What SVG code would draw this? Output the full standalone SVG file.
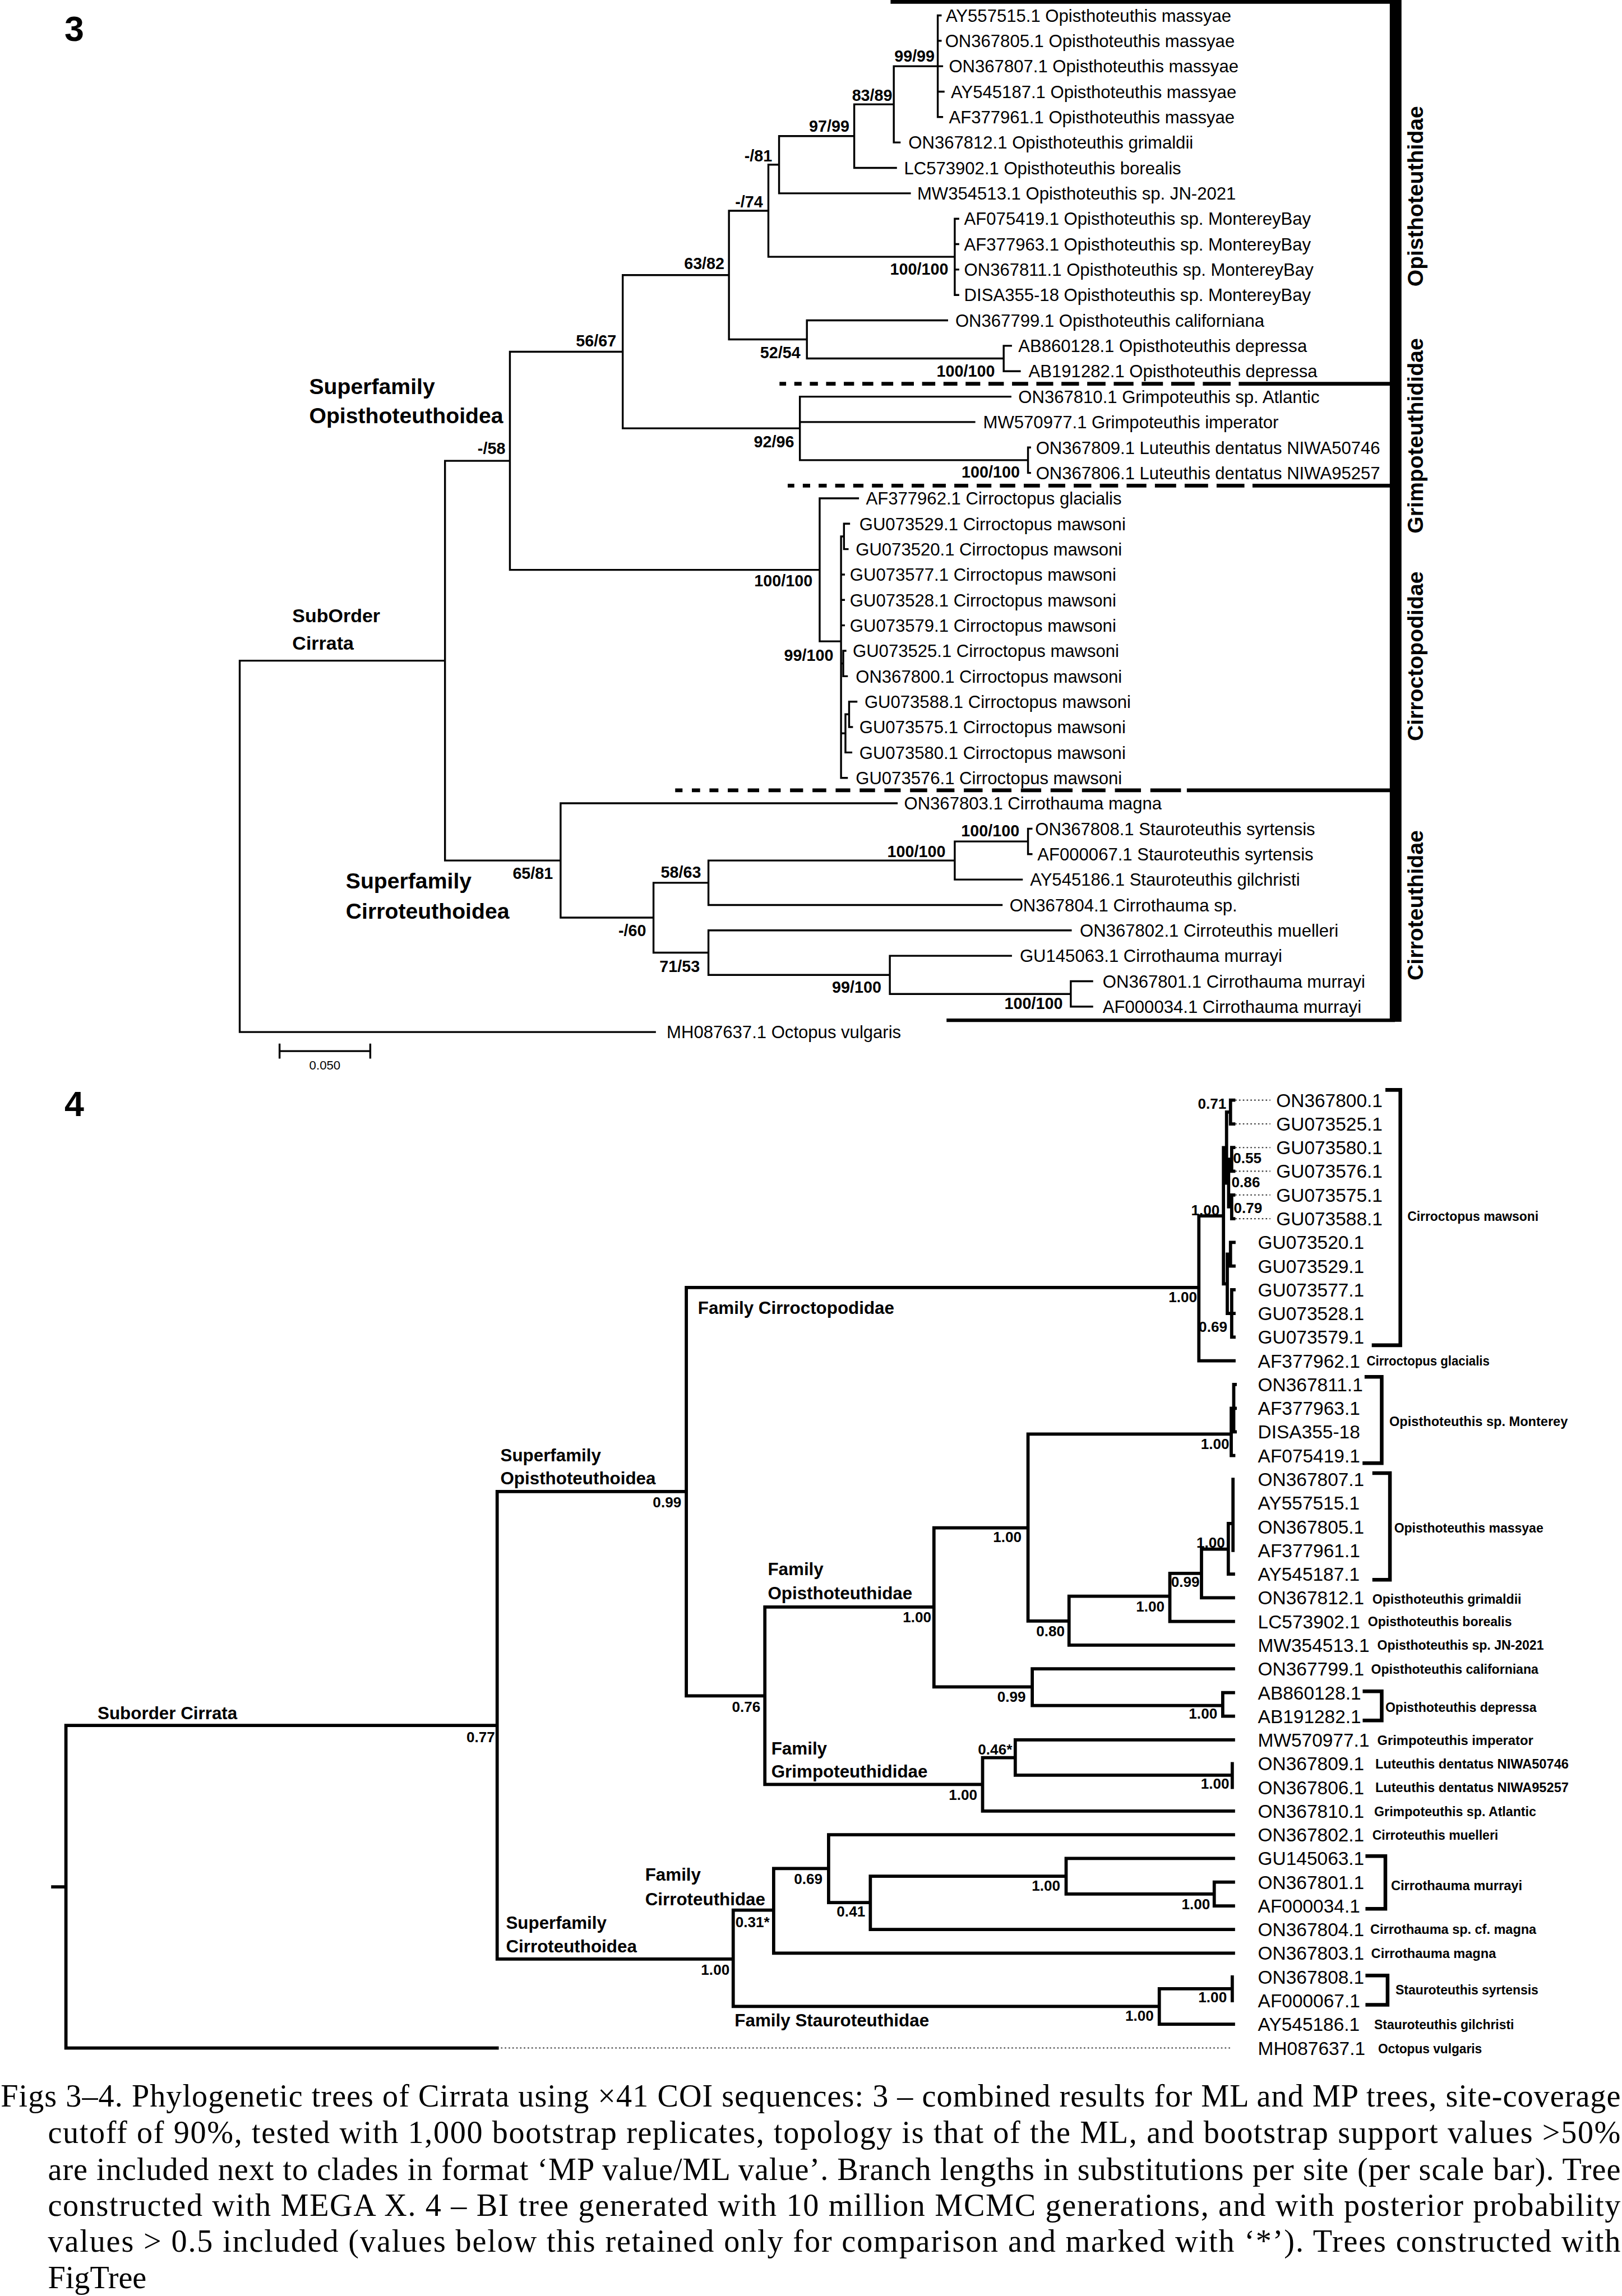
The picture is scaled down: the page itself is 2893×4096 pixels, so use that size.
<svg xmlns="http://www.w3.org/2000/svg" width="2893" height="4096" viewBox="0 0 2893 4096">
<style>
.l3{fill:none;stroke:#000;stroke-width:1.3;stroke-linecap:square}
.l4{fill:none;stroke:#000;stroke-width:2.2;stroke-linecap:square}
.dot{fill:none;stroke:#333;stroke-width:0.8;stroke-dasharray:1 1.6}
.sep{fill:none;stroke:#000;stroke-width:2.6}
.brk{fill:none;stroke:#000;stroke-width:2.5}
text{fill:#000}
.t3{font-family:"Liberation Sans",Arial,sans-serif;font-size:11.9px}
.b3{font-family:"Liberation Sans",Arial,sans-serif;font-size:11px;font-weight:bold;text-anchor:end}
.sf3{font-family:"Liberation Sans",Arial,sans-serif;font-size:15px;font-weight:bold}
.so3{font-family:"Liberation Sans",Arial,sans-serif;font-size:13px;font-weight:bold}
.fam3{font-family:"Liberation Sans",Arial,sans-serif;font-size:15px;font-weight:bold;text-anchor:middle}
.num{font-family:"Liberation Sans",Arial,sans-serif;font-size:24px;font-weight:bold}
.sc{font-family:"Liberation Sans",Arial,sans-serif;font-size:8.5px;text-anchor:middle}
.t4{font-family:"Liberation Sans",Arial,sans-serif;font-size:12.8px}
.sp4{font-family:"Liberation Sans",Arial,sans-serif;font-size:9px;font-weight:bold}
.fl4{font-family:"Liberation Sans",Arial,sans-serif;font-size:12px;font-weight:bold}
.p4{font-family:"Liberation Sans",Arial,sans-serif;font-size:10px;font-weight:bold;text-anchor:end}
.p4s{font-family:"Liberation Sans",Arial,sans-serif;font-size:10px;font-weight:bold}
.cap{font-family:"Liberation Serif","Times New Roman",serif;font-size:21.5px}
</style>
<rect width="2893" height="4096" fill="#fff"/>
<g transform="scale(2.6134)">

<!-- ================= FIGURE 3 ================= -->
<g id="fig3-number"><text class="num" x="44" y="28">3</text></g>

<g id="fig3-connectors">
<path class="l3" d="M163.6 451V704.5M163.6 451H303.7M163.6 704.5H447
M303.7 314.6V587.4M303.7 314.6H348M303.7 587.4H382.6
M348 240.1V389M348 240.1H425M348 389H559.4
M425 187.8V292.4M425 187.8H497.5M425 292.4H545.9
M497.5 143.9V231.7M497.5 143.9H524.4M497.5 231.7H550.7
M524.4 112.4V175.3M524.4 112.4H531.7M524.4 175.3H651.6
M531.7 92.9V131.95M531.7 92.9H583M531.7 131.95H621
M583 71.2V114.6M583 71.2H610M583 114.6H611.5
M610 45.2V97.25M610 45.2H640M610 97.25H614
M640 10.5V79.9M640 10.5H642M640 27.85H642M640 45.2H643M640 62.55H644M640 79.9H643
M651.6 149.3V201.35M651.6 149.3H654M651.6 166.65H654M651.6 184H654M651.6 201.35H654
M550.7 218.7V244.7M550.7 218.7H646.4M550.7 244.7H685
M685 236.05V253.4M685 236.05H690M685 253.4H696
M545.9 270.75V314.1M545.9 270.75H689.6M545.9 288.1H665M545.9 314.1H701.6
M701.6 305.45V322.8M701.6 305.45H703M701.6 322.8H703
M559.4 340.15V437.8M559.4 340.15H585.6M559.4 437.8H574
M574 366.2V531M574 366.2H576M576 357.5V374.85M576 357.5H579.5M576 374.85H578.5
M574 392.2H576M574 409.55H576M574 426.9H576
M574 452.9H575.5M575.5 444.25V461.6M575.5 444.25H577M575.5 461.6H578
M574 500.6H577M577 487.6V513.65M577 487.6H579.5M579.5 478.95V496.3M579.5 478.95H584.5M579.5 496.3H581.5M577 513.65H581
M574 531H578
M382.6 548.35V626.4M382.6 548.35H612M382.6 626.4H446
M446 602.6V650.3M446 602.6H483.5M446 650.3H483.5
M483.5 587.4V617.75M483.5 587.4H651.6M483.5 617.75H683.6
M651.6 574.4V600.4M651.6 574.4H701.6M651.6 600.4H697.4
M701.6 565.7V583.05M701.6 565.7H704M701.6 583.05H704
M483.5 635.1V665.5M483.5 635.1H730.8M483.5 665.5H607.3
M607.3 652.45V678.5M607.3 652.45H690M607.3 678.5H730.8
M730.8 669.8V687.15M730.8 669.8H745.4M730.8 687.15H745.4"/>
<!-- scale bar -->
<path class="l3" d="M190.8 717.5H252.7M190.8 713V722M252.7 713V722"/>
</g>
<g id="fig3-scale-label"><text class="sc" x="221.7" y="730">0.050</text></g>

<g id="fig3-support">
<text class="b3" x="637.9" y="41.9">99/99</text>
<text class="b3" x="609" y="68.8">83/89</text>
<text class="b3" x="579.7" y="89.8">97/99</text>
<text class="b3" x="527" y="110.2">-/81</text>
<text class="b3" x="520.7" y="141.7">-/74</text>
<text class="b3" x="494.4" y="183.7">63/82</text>
<text class="b3" x="647.2" y="187.6">100/100</text>
<text class="b3" x="546.3" y="244.5">52/54</text>
<text class="b3" x="679" y="257">100/100</text>
<text class="b3" x="542" y="305.2">92/96</text>
<text class="b3" x="696" y="325.9">100/100</text>
<text class="b3" x="420.6" y="236.4">56/67</text>
<text class="b3" x="344.9" y="310">-/58</text>
<text class="b3" x="554.5" y="400.3">100/100</text>
<text class="b3" x="568.8" y="451">99/100</text>
<text class="b3" x="377.4" y="600">65/81</text>
<text class="b3" x="695.7" y="571">100/100</text>
<text class="b3" x="645.3" y="585">100/100</text>
<text class="b3" x="478.5" y="599.4">58/63</text>
<text class="b3" x="441" y="638.9">-/60</text>
<text class="b3" x="477.6" y="663.4">71/53</text>
<text class="b3" x="601.5" y="677.7">99/100</text>
<text class="b3" x="725.3" y="688.6">100/100</text>
</g>

<g id="fig3-groups">
<g id="f3-superfamily-opisthoteuthoidea"><text class="sf3" x="211" y="269">Superfamily</text><text class="sf3" x="211" y="289">Opisthoteuthoidea</text></g>
<g id="f3-suborder-cirrata"><text class="so3" x="199.5" y="424.7">SubOrder</text><text class="so3" x="199.5" y="443.4">Cirrata</text></g>
<g id="f3-superfamily-cirroteuthoidea"><text class="sf3" x="236" y="606.5">Superfamily</text><text class="sf3" x="236" y="627">Cirroteuthoidea</text></g>
</g>

<g id="fig3-clade-bars">
<path class="sep" d="M607.8 1.3H952.5"/>
<rect x="948.5" y="0" width="8" height="697.5" fill="#000"/>
<path class="sep" d="M646 696.5H952" style="stroke-width:2.4"/>
<line class="sep" x1="532" y1="262" x2="840" y2="262" stroke-dasharray="4.5 5.6 5 5.6 5.5 5.6 6.5 5.6 7 5.6 7.5 5.6 8 5.6 8.5 5.6 9 5.6 9.5 5.6 10 5.6 10.5 5.6 11 5.6 11.5 5.6 12 5.6 12.5 5.6 13.5 5.6 14.5 5.6 16 5.6 19 40"/>
<path class="sep" d="M845.4 262H949"/>
<line class="sep" x1="537.6" y1="331.5" x2="850" y2="331.5" stroke-dasharray="4.5 5.8 5 5.8 5.5 5.8 6.5 5.8 7 5.8 7.5 5.8 8 5.8 8.5 5.8 9 5.8 9.5 5.8 10 5.8 10.5 5.8 11 5.8 11.5 5.8 12 5.8 12.5 5.8 13.5 5.8 14.5 5.8 16 5.8 19 40"/>
<path class="sep" d="M854.8 331.5H949"/>
<line class="sep" x1="460.8" y1="539.5" x2="806" y2="539.5" stroke-dasharray="5 6.4 5.6 6.4 6.1 6.4 7.2 6.4 7.8 6.4 8.3 6.4 8.9 6.4 9.4 6.4 10 6.4 10.5 6.4 11.1 6.4 11.7 6.4 12.2 6.4 12.8 6.4 13.3 6.4 13.9 6.4 15 6.4 16.1 6.4 17.8 6.4 21.1 40"/>
<path class="sep" d="M810 539.5H949"/>
</g>

<g id="fig3-families">
<g id="f3-fam-opisthoteuthidae"><text class="fam3" transform="translate(971 134) rotate(-90)">Opisthoteuthidae</text></g>
<g id="f3-fam-grimpoteuthididae"><text class="fam3" transform="translate(971 297.5) rotate(-90)">Grimpoteuthididae</text></g>
<g id="f3-fam-cirroctopodidae"><text class="fam3" transform="translate(971 448) rotate(-90)">Cirroctopodidae</text></g>
<g id="f3-fam-cirroteuthidae"><text class="fam3" transform="translate(971 618) rotate(-90)">Cirroteuthidae</text></g>
</g>

<g id="fig3-tips">
<g id="f3-t01"><text class="t3" x="645.5" y="14.8">AY557515.1 Opisthoteuthis massyae</text></g>
<g id="f3-t02"><text class="t3" x="645" y="32.15">ON367805.1 Opisthoteuthis massyae</text></g>
<g id="f3-t03"><text class="t3" x="647.6" y="49.5">ON367807.1 Opisthoteuthis massyae</text></g>
<g id="f3-t04"><text class="t3" x="649" y="66.85">AY545187.1 Opisthoteuthis massyae</text></g>
<g id="f3-t05"><text class="t3" x="647.6" y="84.2">AF377961.1 Opisthoteuthis massyae</text></g>
<g id="f3-t06"><text class="t3" x="620" y="101.55">ON367812.1 Opisthoteuthis grimaldii</text></g>
<g id="f3-t07"><text class="t3" x="617" y="118.9">LC573902.1 Opisthoteuthis borealis</text></g>
<g id="f3-t08"><text class="t3" x="626" y="136.25">MW354513.1 Opisthoteuthis sp. JN-2021</text></g>
<g id="f3-t09"><text class="t3" x="658" y="153.6">AF075419.1 Opisthoteuthis sp. MontereyBay</text></g>
<g id="f3-t10"><text class="t3" x="658" y="170.95">AF377963.1 Opisthoteuthis sp. MontereyBay</text></g>
<g id="f3-t11"><text class="t3" x="658" y="188.3">ON367811.1 Opisthoteuthis sp. MontereyBay</text></g>
<g id="f3-t12"><text class="t3" x="658" y="205.65">DISA355-18 Opisthoteuthis sp. MontereyBay</text></g>
<g id="f3-t13"><text class="t3" x="652" y="223">ON367799.1 Opisthoteuthis californiana</text></g>
<g id="f3-t14"><text class="t3" x="695" y="240.35">AB860128.1 Opisthoteuthis depressa</text></g>
<g id="f3-t15"><text class="t3" x="702" y="257.7">AB191282.1 Opisthoteuthis depressa</text></g>
<g id="f3-t16"><text class="t3" x="695" y="275.05">ON367810.1 Grimpoteuthis sp. Atlantic</text></g>
<g id="f3-t17"><text class="t3" x="671" y="292.4">MW570977.1 Grimpoteuthis imperator</text></g>
<g id="f3-t18"><text class="t3" x="707" y="309.75">ON367809.1 Luteuthis dentatus NIWA50746</text></g>
<g id="f3-t19"><text class="t3" x="707" y="327.1">ON367806.1 Luteuthis dentatus NIWA95257</text></g>
<g id="f3-t20"><text class="t3" x="591" y="344.45">AF377962.1 Cirroctopus glacialis</text></g>
<g id="f3-t21"><text class="t3" x="586.5" y="361.8">GU073529.1 Cirroctopus mawsoni</text></g>
<g id="f3-t22"><text class="t3" x="584" y="379.15">GU073520.1 Cirroctopus mawsoni</text></g>
<g id="f3-t23"><text class="t3" x="580" y="396.5">GU073577.1 Cirroctopus mawsoni</text></g>
<g id="f3-t24"><text class="t3" x="580" y="413.85">GU073528.1 Cirroctopus mawsoni</text></g>
<g id="f3-t25"><text class="t3" x="580" y="431.2">GU073579.1 Cirroctopus mawsoni</text></g>
<g id="f3-t26"><text class="t3" x="582" y="448.55">GU073525.1 Cirroctopus mawsoni</text></g>
<g id="f3-t27"><text class="t3" x="584" y="465.9">ON367800.1 Cirroctopus mawsoni</text></g>
<g id="f3-t28"><text class="t3" x="590" y="483.25">GU073588.1 Cirroctopus mawsoni</text></g>
<g id="f3-t29"><text class="t3" x="586.5" y="500.6">GU073575.1 Cirroctopus mawsoni</text></g>
<g id="f3-t30"><text class="t3" x="586.5" y="517.95">GU073580.1 Cirroctopus mawsoni</text></g>
<g id="f3-t31"><text class="t3" x="584" y="535.3">GU073576.1 Cirroctopus mawsoni</text></g>
<g id="f3-t32"><text class="t3" x="617" y="552.65">ON367803.1 Cirrothauma magna</text></g>
<g id="f3-t33"><text class="t3" x="706.5" y="570">ON367808.1 Stauroteuthis syrtensis</text></g>
<g id="f3-t34"><text class="t3" x="708" y="587.35">AF000067.1 Stauroteuthis syrtensis</text></g>
<g id="f3-t35"><text class="t3" x="703" y="604.7">AY545186.1 Stauroteuthis gilchristi</text></g>
<g id="f3-t36"><text class="t3" x="689" y="622.05">ON367804.1 Cirrothauma sp.</text></g>
<g id="f3-t37"><text class="t3" x="737" y="639.4">ON367802.1 Cirroteuthis muelleri</text></g>
<g id="f3-t38"><text class="t3" x="696" y="656.75">GU145063.1 Cirrothauma murrayi</text></g>
<g id="f3-t39"><text class="t3" x="752.6" y="674.1">ON367801.1 Cirrothauma murrayi</text></g>
<g id="f3-t40"><text class="t3" x="752.6" y="691.45">AF000034.1 Cirrothauma murrayi</text></g>
<g id="f3-t41"><text class="t3" x="455" y="708.8">MH087637.1 Octopus vulgaris</text></g>
</g>

<!-- ================= FIGURE 4 ================= -->
<g id="fig4-number"><text class="num" x="44" y="762">4</text></g>

<g id="fig4-connectors">
<path class="l4" d="M36 1288H45M45 1177.8V1398M45 1177.8H339.3M45 1398H339.3
M339.3 1018.2V1337.3M339.3 1018.2H468.4M339.3 1337.3H500.4
M468.4 878.9V1157.6M468.4 878.9H818.2M468.4 1157.6H522
M818.2 830V928.9M818.2 830H835M818.2 928.9H842.2
M835 783.4V876.4M835 783.4H837.1M835 876.4H837.6
M837.1 759.1V807.6M837.1 759.1H839.8M837.1 807.6H838.5
M839.8 751V767.2M839.8 751H842M839.8 767.2H842
M838.5 791.4V823.8M838.5 791.4H840.6M838.5 823.8H840.6
M840.6 783.35V799.5M840.6 783.35H842M840.6 799.5H842
M840.6 815.7V831.9M840.6 815.7H842M840.6 831.9H842
M837.6 856.1V896.6M837.6 856.1H839.8M837.6 896.6H840.6
M839.8 848.05V864.2M839.8 848.05H842.2M839.8 864.2H842.2
M840.6 880.4V912.75M840.6 880.4H842.2M840.6 896.6H842.2M840.6 912.75H842.2
M522 1097V1218.1M522 1097H637.4M522 1218.1H670.6
M637.4 1042.9V1151.5M637.4 1042.9H701.6M637.4 1151.5H704.5
M701.6 978.9V1106.6M701.6 978.9H840.3M701.6 1106.6H729.6
M840.3 961.3V993.6M840.3 961.3H842M842 945.1V977.45M842 945.1H843M842 961.3H843M842 977.45H843M840.3 993.6H842
M729.6 1089.6V1123M729.6 1089.6H798.4M729.6 1123H841.8
M798.4 1074V1106.85M798.4 1074H820M798.4 1106.85H841.8
M820 1057.5V1090.7M820 1057.5H838.3M820 1090.7H841.8
M838.3 1040V1074.5M838.3 1040H841.5M841.5 1009.8V1058.3M838.3 1074.5H841.8
M704.5 1139.2V1164.2M704.5 1139.2H841.8M704.5 1164.2H834.5
M834.5 1155.4V1171.55M834.5 1155.4H841.8M834.5 1171.55H841.8
M670.6 1199.8V1236.25M670.6 1199.8H692.9M670.6 1236.25H841.8
M692.9 1187.7V1211.8M692.9 1187.7H841.8M692.9 1211.8H841
M841 1203.9V1220.1
M500.4 1303.9V1369.6M500.4 1303.9H528M500.4 1369.6H791.2
M528 1275.5V1333.3M528 1275.5H565.5M528 1333.3H841.8
M565.5 1252.4V1298.7M565.5 1252.4H841.8M565.5 1298.7H594
M594 1280.8V1317.1M594 1280.8H727.6M594 1317.1H841.8
M727.6 1268.6V1292.9M727.6 1268.6H841.8M727.6 1292.9H828.7
M828.7 1284.8V1301M828.7 1284.8H841.8M828.7 1301H841.8
M791.2 1357.6V1381.8M791.2 1357.6H841M791.2 1381.8H841.8
M841 1349.5V1365.7"/>
<path class="dot" d="M843 751H867M843 767.2H867M843 783.35H867M843 799.5H867M843 815.7H867M843 831.9H867M339.3 1398H840.3"/>
</g>

<g id="fig4-posteriors">
<text class="p4" x="837" y="756.8">0.71</text>
<text class="p4s" x="841.5" y="794.1">0.55</text>
<text class="p4s" x="840.5" y="810.3">0.86</text>
<text class="p4s" x="842" y="828">0.79</text>
<text class="p4" x="832.4" y="829.7">1.00</text>
<text class="p4" x="837.6" y="909.2">0.69</text>
<text class="p4" x="817" y="889">1.00</text>
<text class="p4" x="839" y="989.3">1.00</text>
<text class="p4" x="697.2" y="1052.6">1.00</text>
<text class="p4" x="836" y="1056.6">1.00</text>
<text class="p4" x="818.7" y="1083.1">0.99</text>
<text class="p4" x="794.8" y="1100">1.00</text>
<text class="p4" x="726.7" y="1117">0.80</text>
<text class="p4" x="700.1" y="1161.6">0.99</text>
<text class="p4" x="830.8" y="1173.2">1.00</text>
<text class="p4" x="690.8" y="1197.6">0.46*</text>
<text class="p4" x="839" y="1221">1.00</text>
<text class="p4" x="667" y="1228.7">1.00</text>
<text class="p4" x="519" y="1168.7">0.76</text>
<text class="p4" x="635.6" y="1107.4">1.00</text>
<text class="p4" x="465" y="1028.9">0.99</text>
<text class="p4" x="337.8" y="1189.3">0.77</text>
<text class="p4" x="497.9" y="1347.9">1.00</text>
<text class="p4s" x="501.9" y="1315.6">0.31*</text>
<text class="p4" x="561.4" y="1285.9">0.69</text>
<text class="p4" x="590.5" y="1308.4">0.41</text>
<text class="p4" x="723.6" y="1290.6">1.00</text>
<text class="p4" x="825.9" y="1303.1">1.00</text>
<text class="p4" x="787.4" y="1379.6">1.00</text>
<text class="p4" x="837.3" y="1366.9">1.00</text>
</g>

<g id="fig4-groups">
<g id="f4-suborder-cirrata"><text class="fl4" x="66.6" y="1173.7">Suborder Cirrata</text></g>
<g id="f4-superfamily-opisthoteuthoidea"><text class="fl4" x="341.5" y="997.5">Superfamily</text><text class="fl4" x="341.5" y="1013.3">Opisthoteuthoidea</text></g>
<g id="f4-family-cirroctopodidae"><text class="fl4" x="476.3" y="897">Family Cirroctopodidae</text></g>
<g id="f4-family-opisthoteuthidae"><text class="fl4" x="524" y="1075.1">Family</text><text class="fl4" x="524" y="1091.8">Opisthoteuthidae</text></g>
<g id="f4-family-grimpoteuthididae"><text class="fl4" x="526.4" y="1197.5">Family</text><text class="fl4" x="526.4" y="1213.5">Grimpoteuthididae</text></g>
<g id="f4-family-cirroteuthidae"><text class="fl4" x="440.3" y="1283.8">Family</text><text class="fl4" x="440.3" y="1300.7">Cirroteuthidae</text></g>
<g id="f4-superfamily-cirroteuthoidea"><text class="fl4" x="345.3" y="1316.6">Superfamily</text><text class="fl4" x="345.3" y="1332.6">Cirroteuthoidea</text></g>
<g id="f4-family-stauroteuthidae"><text class="fl4" x="501.4" y="1383.3">Family Stauroteuthidae</text></g>
</g>

<g id="fig4-species-brackets">
<g id="f4-sp-cirroctopus-mawsoni"><path class="brk" d="M945.5 744H955.7V918.3H936.2"/><text class="sp4" x="960.5" y="833.4" textLength="89.5" lengthAdjust="spacingAndGlyphs">Cirroctopus mawsoni</text></g>
<g id="f4-sp-opisthoteuthis-monterey"><path class="brk" d="M931.3 939.9H943V998.8H929.9"/><text class="sp4" x="948.2" y="973.6" textLength="121.8" lengthAdjust="spacingAndGlyphs">Opisthoteuthis sp. Monterey</text></g>
<g id="f4-sp-opisthoteuthis-massyae"><path class="brk" d="M936.6 1005.6H948.6V1078.4H936.6"/><text class="sp4" x="951.5" y="1046.1" textLength="101.8" lengthAdjust="spacingAndGlyphs">Opisthoteuthis massyae</text></g>
<g id="f4-sp-opisthoteuthis-depressa"><path class="brk" d="M930 1154.5H943V1174.4H930"/><text class="sp4" x="945.5" y="1168.5" textLength="103.2" lengthAdjust="spacingAndGlyphs">Opisthoteuthis depressa</text></g>
<g id="f4-sp-cirrothauma-murrayi"><path class="brk" d="M931.9 1267H945.5V1303H931.9"/><text class="sp4" x="949.3" y="1290.3" textLength="89.6" lengthAdjust="spacingAndGlyphs">Cirrothauma murrayi</text></g>
<g id="f4-sp-stauroteuthis-syrtensis"><path class="brk" d="M931.9 1348.5H947V1368.5H931.9"/><text class="sp4" x="952.4" y="1361.6" textLength="97.5" lengthAdjust="spacingAndGlyphs">Stauroteuthis syrtensis</text></g>
</g>

<g id="fig4-tips">
<g id="f4-t01"><text class="t4" x="871" y="755.6">ON367800.1</text></g>
<g id="f4-t02"><text class="t4" x="871" y="771.8">GU073525.1</text></g>
<g id="f4-t03"><text class="t4" x="871" y="787.95">GU073580.1</text></g>
<g id="f4-t04"><text class="t4" x="871" y="804.1">GU073576.1</text></g>
<g id="f4-t05"><text class="t4" x="871" y="820.3">GU073575.1</text></g>
<g id="f4-t06"><text class="t4" x="871" y="836.5">GU073588.1</text></g>
<g id="f4-t07"><text class="t4" x="858.5" y="852.65">GU073520.1</text></g>
<g id="f4-t08"><text class="t4" x="858.5" y="868.8">GU073529.1</text></g>
<g id="f4-t09"><text class="t4" x="858.5" y="885">GU073577.1</text></g>
<g id="f4-t10"><text class="t4" x="858.5" y="901.2">GU073528.1</text></g>
<g id="f4-t11"><text class="t4" x="858.5" y="917.35">GU073579.1</text></g>
<g id="f4-t12"><text class="t4" x="858.5" y="933.5">AF377962.1</text><text class="sp4" x="932.7" y="932" textLength="83.9" lengthAdjust="spacingAndGlyphs">Cirroctopus glacialis</text></g>
<g id="f4-t13"><text class="t4" x="858.5" y="949.7">ON367811.1</text></g>
<g id="f4-t14"><text class="t4" x="858.5" y="965.9">AF377963.1</text></g>
<g id="f4-t15"><text class="t4" x="858.5" y="982.05">DISA355-18</text></g>
<g id="f4-t16"><text class="t4" x="858.5" y="998.2">AF075419.1</text></g>
<g id="f4-t17"><text class="t4" x="858.5" y="1014.4">ON367807.1</text></g>
<g id="f4-t18"><text class="t4" x="858.5" y="1030.6">AY557515.1</text></g>
<g id="f4-t19"><text class="t4" x="858.5" y="1046.75">ON367805.1</text></g>
<g id="f4-t20"><text class="t4" x="858.5" y="1062.9">AF377961.1</text></g>
<g id="f4-t21"><text class="t4" x="858.5" y="1079.1">AY545187.1</text></g>
<g id="f4-t22"><text class="t4" x="858.5" y="1095.3">ON367812.1</text><text class="sp4" x="936.6" y="1094.9" textLength="101.7" lengthAdjust="spacingAndGlyphs">Opisthoteuthis grimaldii</text></g>
<g id="f4-t23"><text class="t4" x="858.5" y="1111.45">LC573902.1</text><text class="sp4" x="933.6" y="1110.2" textLength="98.2" lengthAdjust="spacingAndGlyphs">Opisthoteuthis borealis</text></g>
<g id="f4-t24"><text class="t4" x="858.5" y="1127.6">MW354513.1</text><text class="sp4" x="940" y="1126.3" textLength="113.6" lengthAdjust="spacingAndGlyphs">Opisthoteuthis sp. JN-2021</text></g>
<g id="f4-t25"><text class="t4" x="858.5" y="1143.8">ON367799.1</text><text class="sp4" x="935.8" y="1142.5" textLength="114.1" lengthAdjust="spacingAndGlyphs">Opisthoteuthis californiana</text></g>
<g id="f4-t26"><text class="t4" x="858.5" y="1160">AB860128.1</text></g>
<g id="f4-t27"><text class="t4" x="858.5" y="1176.15">AB191282.1</text></g>
<g id="f4-t28"><text class="t4" x="858.5" y="1192.3">MW570977.1</text><text class="sp4" x="940" y="1191" textLength="106.4" lengthAdjust="spacingAndGlyphs">Grimpoteuthis imperator</text></g>
<g id="f4-t29"><text class="t4" x="858.5" y="1208.5">ON367809.1</text><text class="sp4" x="938.6" y="1207.3" textLength="132" lengthAdjust="spacingAndGlyphs">Luteuthis dentatus NIWA50746</text></g>
<g id="f4-t30"><text class="t4" x="858.5" y="1224.7">ON367806.1</text><text class="sp4" x="938.6" y="1223.5" textLength="132" lengthAdjust="spacingAndGlyphs">Luteuthis dentatus NIWA95257</text></g>
<g id="f4-t31"><text class="t4" x="858.5" y="1240.85">ON367810.1</text><text class="sp4" x="937.9" y="1239.6" textLength="110.5" lengthAdjust="spacingAndGlyphs">Grimpoteuthis sp. Atlantic</text></g>
<g id="f4-t32"><text class="t4" x="858.5" y="1257">ON367802.1</text><text class="sp4" x="936.6" y="1255.7" textLength="85.9" lengthAdjust="spacingAndGlyphs">Cirroteuthis muelleri</text></g>
<g id="f4-t33"><text class="t4" x="858.5" y="1273.2">GU145063.1</text></g>
<g id="f4-t34"><text class="t4" x="858.5" y="1289.4">ON367801.1</text></g>
<g id="f4-t35"><text class="t4" x="858.5" y="1305.55">AF000034.1</text></g>
<g id="f4-t36"><text class="t4" x="858.5" y="1321.7">ON367804.1</text><text class="sp4" x="935.2" y="1320.3" textLength="113.3" lengthAdjust="spacingAndGlyphs">Cirrothauma sp. cf. magna</text></g>
<g id="f4-t37"><text class="t4" x="858.5" y="1337.9">ON367803.1</text><text class="sp4" x="935.8" y="1336.6" textLength="85.2" lengthAdjust="spacingAndGlyphs">Cirrothauma magna</text></g>
<g id="f4-t38"><text class="t4" x="858.5" y="1354.1">ON367808.1</text></g>
<g id="f4-t39"><text class="t4" x="858.5" y="1370.25">AF000067.1</text></g>
<g id="f4-t40"><text class="t4" x="858.5" y="1386.4">AY545186.1</text><text class="sp4" x="937.9" y="1385.2" textLength="95.4" lengthAdjust="spacingAndGlyphs">Stauroteuthis gilchristi</text></g>
<g id="f4-t41"><text class="t4" x="858.5" y="1402.6">MH087637.1</text><text class="sp4" x="940.5" y="1401.5" textLength="70.9" lengthAdjust="spacingAndGlyphs">Octopus vulgaris</text></g>
</g>

<!-- ================= CAPTION ================= -->
<g id="caption">
<text class="cap" x="0.5" y="1438" textLength="1105.5" lengthAdjust="spacing">Figs 3–4. Phylogenetic trees of Cirrata using ×41 COI sequences: 3 – combined results for ML and MP trees, site-coverage</text>
<text class="cap" x="32.7" y="1463" textLength="1073.3" lengthAdjust="spacing">cutoff of 90%, tested with 1,000 bootstrap replicates, topology is that of the ML, and bootstrap support values &gt;50%</text>
<text class="cap" x="32.7" y="1488" textLength="1073.3" lengthAdjust="spacing">are included next to clades in format ‘MP value/ML value’. Branch lengths in substitutions per site (per scale bar). Tree</text>
<text class="cap" x="32.7" y="1512.6" textLength="1073.3" lengthAdjust="spacing">constructed with MEGA X. 4 – BI tree generated with 10 million MCMC generations, and with posterior probability</text>
<text class="cap" x="32.7" y="1537.2" textLength="1073.3" lengthAdjust="spacing">values &gt; 0.5 included (values below this retained only for comparison and marked with ‘*’). Trees constructed with</text>
<text class="cap" x="32.7" y="1562">FigTree</text>
</g>

</g>
</svg>
